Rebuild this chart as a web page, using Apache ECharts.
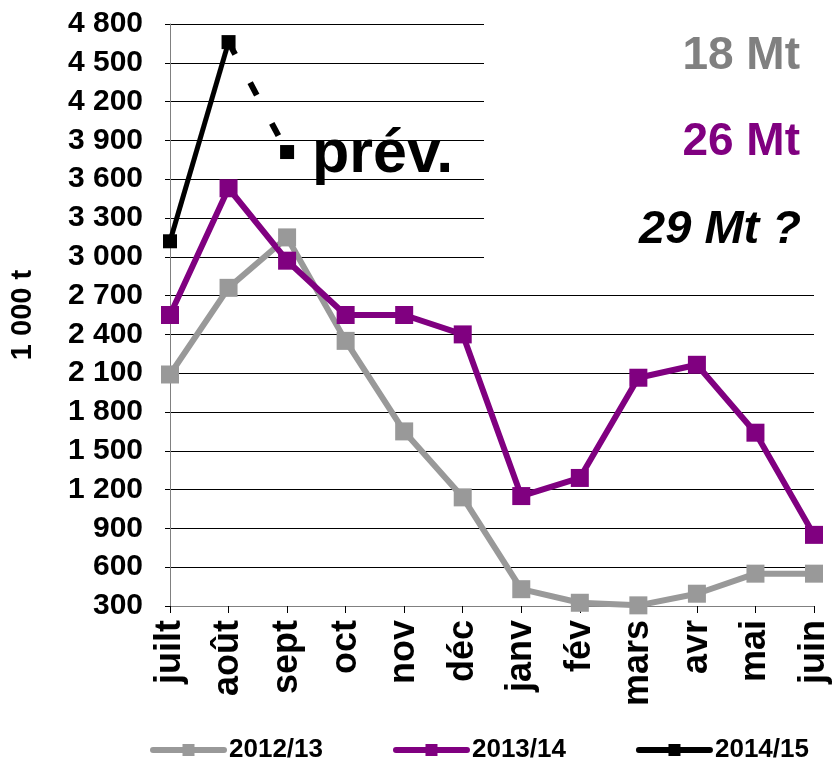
<!DOCTYPE html>
<html>
<head>
<meta charset="utf-8">
<script src="https://cdn.jsdelivr.net/npm/echarts@6/dist/echarts.min.js"></script>
<style>
  html, body { margin: 0; padding: 0; background: #fff; }
  #chart { width: 832px; height: 765px; }
</style>
</head>
<body>
<div id="chart"></div>
<script>
// mois de la campagne
var months = ['juilt', 'août', 'sept', 'oct', 'nov', 'déc', 'janv', 'fév', 'mars', 'avr', 'mai', 'juin']
var serie1213 = [2090, 2760, 3150, 2350, 1650, 1140, 430, 325, 305, 395, 550, 550]
var serie1314 = [2550, 3530, 2970, 2550, 2550, 2400, 1150, 1290, 2065, 2165, 1640, 850]
var serie1415 = [3120, 4660, null, null, null, null, null, null, null, null, null, null]
var prevision = [null, 4660, 3810, null, null, null, null, null, null, null, null, null]
var totals = ['18 Mt', '26 Mt', '29 Mt ?']

var font = 'Liberation Sans, Arial, sans-serif'
var chart = echarts.init(document.getElementById('chart'))

function fmt(v) {
  // 4800 -> "4 800"
  var s = String(v)
  return s.length > 3 ? s.slice(0, s.length - 3) + ' ' + s.slice(-3) : s
}

chart.setOption({
  animation: false,
  backgroundColor: '#fff',
  grid: { left: 165, right: 17, top: 24, bottom: 159 },
  legend: {
    data: ['2012/13', '2013/14', '2014/15'],
    left: 150,
    top: 737,
    padding: 0,
    itemWidth: 71,
    itemHeight: 15,
    itemGap: 70,
    lineStyle: { width: 6, cap: 'round' },
    textStyle: { fontFamily: font, fontSize: 26, fontWeight: 'bold', color: '#000' }
  },
  xAxis: {
    type: 'category',
    data: months,
    boundaryGap: false,
    axisLine: { lineStyle: { color: '#808080', width: 1 } },
    axisTick: { show: true, length: 7, lineStyle: { color: '#000' } },
    axisLabel: {
      rotate: 90,
      margin: 14,
      interval: 0,
      fontFamily: font,
      fontSize: 36,
      fontWeight: 'bold',
      color: '#000'
    }
  },
  yAxis: {
    type: 'value',
    min: 300,
    max: 4800,
    interval: 300,
    name: '1 000 t',
    nameLocation: 'middle',
    nameRotate: 90,
    nameGap: 133,
    nameTextStyle: { fontFamily: font, fontSize: 29, fontWeight: 'bold', color: '#000' },
    axisLine: { show: true, lineStyle: { color: '#808080' } },
    axisTick: { show: true, length: 5, lineStyle: { color: '#000' } },
    splitLine: { lineStyle: { color: '#000', width: 1 } },
    axisLabel: {
      margin: 27,
      formatter: fmt,
      fontFamily: font,
      fontSize: 30,
      fontWeight: 'bold',
      color: '#000'
    }
  },
  series: [
    {
      name: '2012/13',
      type: 'line',
      data: serie1213,
      symbol: 'rect',
      symbolSize: 18,
      lineStyle: { color: '#999999', width: 6 },
      itemStyle: { color: '#999999' }
    },
    {
      name: '2013/14',
      type: 'line',
      data: serie1314,
      symbol: 'rect',
      symbolSize: 18,
      lineStyle: { color: '#800080', width: 6 },
      itemStyle: { color: '#800080' }
    },
    {
      name: 'prév.',
      type: 'line',
      data: prevision.map(function (v, i) {
        return i === 1 ? { value: v, symbol: 'none' } : v
      }),
      symbol: 'rect',
      symbolSize: 14,
      lineStyle: { color: '#000', width: 6, type: [14, 32] },
      itemStyle: { color: '#000' }
    },
    {
      name: '2014/15',
      type: 'line',
      data: serie1415,
      symbol: 'rect',
      symbolSize: 14,
      lineStyle: { color: '#000', width: 5 },
      itemStyle: { color: '#000' }
    }
  ],
  graphic: [
    { type: 'rect', z: 100, shape: { x: 484, y: 0, width: 348, height: 280 }, style: { fill: '#fff' } },
    { type: 'text', z: 101, x: 800, y: 56, style: { text: totals[0], fill: '#808080', font: 'bold 46px ' + font, textAlign: 'right', textVerticalAlign: 'middle' } },
    { type: 'text', z: 101, x: 800, y: 142, style: { text: totals[1], fill: '#800080', font: 'bold 46px ' + font, textAlign: 'right', textVerticalAlign: 'middle' } },
    { type: 'text', z: 101, x: 801, y: 230, style: { text: totals[2], fill: '#000', font: 'italic bold 47px ' + font, textAlign: 'right', textVerticalAlign: 'middle' } },
    { type: 'text', z: 101, x: 312, y: 155, style: { text: 'prév.', fill: '#000', font: 'bold 61px ' + font, textAlign: 'left', textVerticalAlign: 'middle' } }
  ]
})
</script>
</body>
</html>
